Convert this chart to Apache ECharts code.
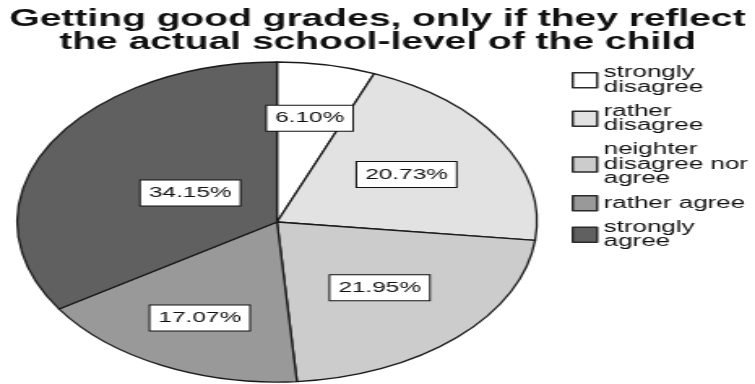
<!DOCTYPE html>
<html>
<head>
<meta charset="utf-8">
<script src="https://cdn.jsdelivr.net/npm/echarts@6/dist/echarts.min.js"></script>
<style>
  html, body { margin: 0; padding: 0; background: #fff; overflow: hidden; }
  /* the chart is laid out narrow and widened, so the pie reads as an ellipse */
  #chart { position: absolute; left: 0; top: 0; width: 465px; height: 384px;
           transform: scaleX(1.6237); transform-origin: 0 0; }
</style>
</head>
<body>
<div id="chart"></div>
<script>
const titleText = 'Getting good grades, only if they reflect\nthe actual school-level of the child';
const categories = ['strongly disagree', 'rather disagree', 'neighter disagree nor agree', 'rather agree', 'strongly agree'];
const values = [6.10, 20.73, 21.95, 17.07, 34.15];

const colors = ['#ffffff', '#e2e2e2', '#cccccc', '#999999', '#606060'];
// radial position of each percentage box, as a share of the radius
const labelRadius = [0.66, 0.58, 0.57, 0.67, 0.38];

const CX = 170.6, CY = 222, R = 160;
const FONT = '"Liberation Sans", Arial, Helvetica, sans-serif';
const LEGEND_FONT_SIZE = 16, LEGEND_TEXT_WIDTH = 92;

const total = values.reduce((a, b) => a + b, 0);
const midAngles = [];
let acc = 0;
values.forEach(v => { midAngles.push((acc + v / 2) / total * 2 * Math.PI); acc += v; });

// word-wrap legend names so that no line starts with a stray space
const measureCtx = document.createElement('canvas').getContext('2d');
measureCtx.font = LEGEND_FONT_SIZE + 'px ' + FONT;
function wrapWords(text, maxWidth) {
  const lines = [];
  let line = '';
  text.split(' ').forEach(w => {
    const test = line ? line + ' ' + w : w;
    if (line && measureCtx.measureText(test).width > maxWidth) {
      lines.push(line);
      line = w;
    } else {
      line = test;
    }
  });
  if (line) lines.push(line);
  return lines.join('\n');
}

const chart = echarts.init(document.getElementById('chart'), null, { renderer: 'canvas' });
chart.setOption({
  animation: false,
  color: colors,
  title: {
    text: titleText,
    left: 'center',
    top: 8,
    padding: 0,
    textStyle: { fontFamily: FONT, fontSize: 24, fontWeight: 'bold', color: '#111', lineHeight: 23 }
  },
  legend: {
    orient: 'vertical',
    left: 352,
    top: 65,
    padding: 0,
    itemGap: 8,
    itemWidth: 15,
    itemHeight: 15,
    icon: 'rect',
    selectedMode: false,
    itemStyle: { borderColor: '#2a2a2a', borderWidth: 1.5 },
    formatter: name => wrapWords(name, LEGEND_TEXT_WIDTH),
    textStyle: { fontFamily: FONT, fontSize: LEGEND_FONT_SIZE, color: '#111', lineHeight: 14.5,
                 padding: [0, 0, 0, -1] },
    data: categories
  },
  series: [{
    type: 'pie',
    center: [CX, CY],
    radius: [0, R],
    startAngle: 90,
    clockwise: true,
    silent: true,
    avoidLabelOverlap: false,
    itemStyle: { borderColor: '#1a1a1a', borderWidth: 1.3 },
    emphasis: { disabled: true },
    label: {
      show: true,
      position: 'inside',
      formatter: p => p.value.toFixed(2) + '%',
      fontFamily: FONT,
      fontSize: 15,
      lineHeight: 17,
      color: '#111',
      backgroundColor: '#fff',
      borderColor: '#111',
      borderWidth: 1,
      padding: [4, 5]
    },
    labelLine: { show: false },
    labelLayout: p => {
      const a = midAngles[p.dataIndex];
      const k = labelRadius[p.dataIndex] * R;
      return { x: CX + k * Math.sin(a), y: CY - k * Math.cos(a), align: 'center', verticalAlign: 'middle' };
    },
    data: categories.map((c, i) => ({ name: c, value: values[i] }))
  }]
});
</script>
</body>
</html>
